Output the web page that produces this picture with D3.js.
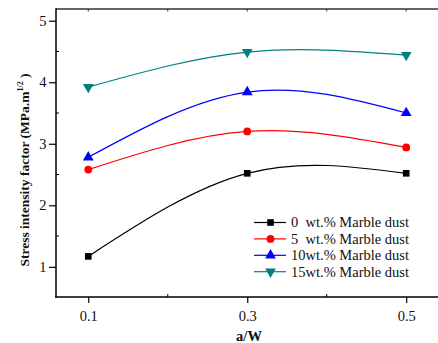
<!DOCTYPE html>
<html>
<head>
<meta charset="utf-8">
<script src="https://cdn.jsdelivr.net/npm/d3@7/dist/d3.min.js"></script>
<style>
html,body{margin:0;padding:0;background:#fff;}
svg{display:block;}
text{font-family:"Liberation Serif","Times New Roman",serif;fill:#111;}
</style>
</head>
<body>
<svg id="chart" width="438" height="343"></svg>
<script>
const aw = [0.1, 0.3, 0.5];
const s0 = [1.17, 2.52, 2.52];
const s5 = [2.58, 3.20, 2.94];
const s10 = [2.78, 3.84, 3.50];
const s15 = [3.92, 4.49, 4.44];
const seriesNames = ["0  wt.% Marble dust", "5  wt.% Marble dust", "10wt.% Marble dust", "15wt.% Marble dust"];
const colors = ["#000000", "#ff0000", "#0000ff", "#008080"];
const symbols = [d3.symbolSquare, d3.symbolCircle, d3.symbolTriangle, "tri-down"];
const xMajor = [0.1, 0.3, 0.5];
const xMinor = [0.2, 0.4];
const xTopTicks = [0.1, 0.2, 0.3, 0.4, 0.5];
const yMajor = [1, 2, 3, 4, 5];
const yMinor = [1.5, 2.5, 3.5, 4.5];

const svg = d3.select("#chart");
const mL = 56, mR = 438, mT = 9, mB = 297;
const x = d3.scaleLinear().domain([0.0594, 0.54]).range([mL, mR]);
const y = d3.scaleLinear().domain([0.51, 5.19]).range([mB, mT]);

const series = [s0, s5, s10, s15].map((vals, i) => ({
  name: seriesNames[i], color: colors[i], sym: symbols[i],
  pts: aw.map((a, j) => [a, vals[j]])
}));

// top border
svg.append("line").attr("x1", mL).attr("x2", mR + 2).attr("y1", mT).attr("y2", mT)
  .attr("stroke", "#333").attr("stroke-width", 1.5);
svg.selectAll(".ttick").data(xTopTicks).enter().append("line")
  .attr("x1", d => x(d)).attr("x2", d => x(d)).attr("y1", mT).attr("y2", mT + 2.5)
  .attr("stroke", "#333").attr("stroke-width", 1);

// bottom axis
const xAxis = d3.axisBottom(x).tickValues(xMajor).tickFormat(d3.format(".1f")).tickSize(6).tickSizeOuter(0);
const gx = svg.append("g").attr("transform", `translate(0,${mB})`).call(xAxis);
gx.select(".domain").attr("stroke", "#000").attr("stroke-width", 1.5).attr("d", `M${mL - 0.75},0H${mR + 2}`);
gx.selectAll(".tick line").attr("stroke-width", 1.2);
gx.selectAll(".tick text").attr("font-size", 14.5).attr("dy", "1.0em").attr("fill", "#111")
  .style("font-family", "'Liberation Serif', serif");
svg.selectAll(".xminor").data(xMinor).enter().append("line")
  .attr("x1", d => x(d)).attr("x2", d => x(d)).attr("y1", mB).attr("y2", mB - 3)
  .attr("stroke", "#000").attr("stroke-width", 1);

// left axis
const yAxis = d3.axisLeft(y).tickValues(yMajor).tickFormat(d3.format("d")).tickSize(7).tickSizeOuter(0);
const gy = svg.append("g").attr("transform", `translate(${mL},0)`).call(yAxis);
gy.select(".domain").attr("stroke", "#000").attr("stroke-width", 1.5).attr("d", `M0,${mT - 0.75}V${mB + 0.75}`);
gy.selectAll(".tick line").attr("stroke-width", 1.2);
gy.selectAll(".tick text").attr("font-size", 14.5).attr("x", -9.5).attr("fill", "#111")
  .style("font-family", "'Liberation Serif', serif");
svg.selectAll(".yminor").data(yMinor).enter().append("line")
  .attr("x1", mL).attr("x2", mL + 3).attr("y1", d => y(d)).attr("y2", d => y(d))
  .attr("stroke", "#000").attr("stroke-width", 1);

// axis titles
svg.append("text").attr("x", 249).attr("y", 341).attr("text-anchor", "middle")
  .attr("font-size", 14.5).attr("font-weight", "bold").text("a/W");
const yt = svg.append("text").attr("transform", `translate(29,170) rotate(-90)`)
  .attr("text-anchor", "middle").attr("font-size", 13.5).attr("font-weight", "bold");
yt.append("tspan").text("Stress intensity factor (MPa.m");
yt.append("tspan").attr("font-size", 8).attr("dy", -6).text("1/2");
yt.append("tspan").attr("dy", 6).text(" )");

// curves
const line = d3.line().x(d => x(d[0])).y(d => y(d[1])).curve(d3.curveNatural);
svg.append("clipPath").attr("id", "clip").append("rect")
  .attr("x", mL).attr("y", mT).attr("width", mR - mL).attr("height", mB - mT);

function drawMarker(g, sym, color, cx, cy) {
  if (sym === "tri-down") {
    g.append("path").attr("d", d3.symbol().type(d3.symbolTriangle).size(50)())
      .attr("transform", `translate(${cx},${cy}) rotate(180)`).attr("fill", color);
  } else {
    const size = sym === d3.symbolSquare ? 44 : (sym === d3.symbolCircle ? 48 : 50);
    g.append("path").attr("d", d3.symbol().type(sym).size(size)())
      .attr("transform", `translate(${cx},${cy})`).attr("fill", color);
  }
}

const plot = svg.append("g").attr("clip-path", "url(#clip)");
series.forEach(s => {
  plot.append("path").datum(s.pts).attr("d", line).attr("fill", "none")
    .attr("stroke", s.color).attr("stroke-width", 1.2);
});
series.forEach(s => {
  s.pts.forEach(p => drawMarker(svg, s.sym, s.color, x(p[0]), y(p[1])));
});

// legend
const lg = svg.append("g");
series.forEach((s, i) => {
  const ly = 222.5 + i * 16.4;
  lg.append("line").attr("x1", 254).attr("x2", 286).attr("y1", ly).attr("y2", ly)
    .attr("stroke", s.color).attr("stroke-width", 1.2);
  drawMarker(lg, s.sym, s.color, 270.5, ly);
  lg.append("text").attr("x", 291).attr("y", ly + 4.8).attr("font-size", 14.5)
    .style("white-space", "pre").text(s.name);
});
</script>
</body>
</html>
